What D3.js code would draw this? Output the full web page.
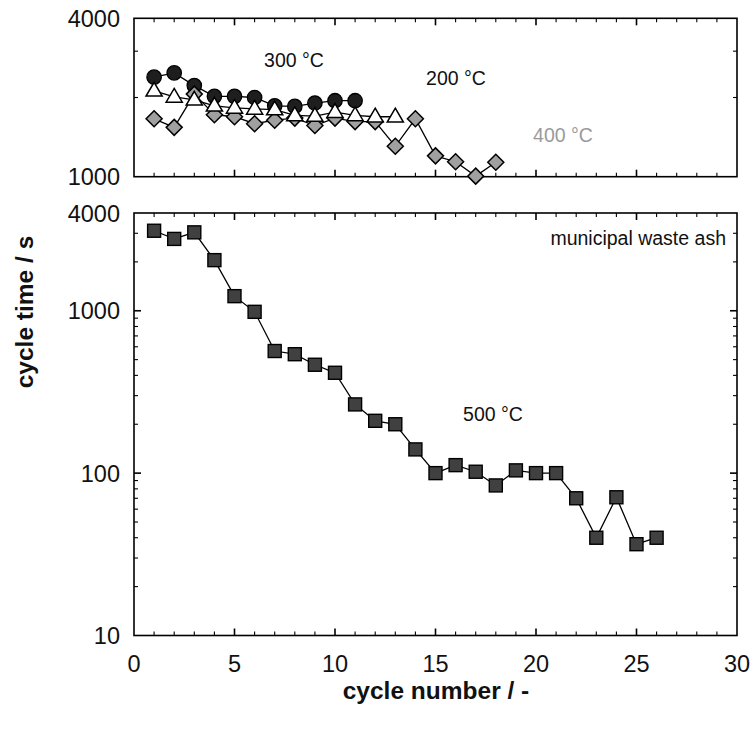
<!DOCTYPE html>
<html>
<head>
<meta charset="utf-8">
<script src="https://cdn.jsdelivr.net/npm/d3@7"></script>
<style>
  html, body { margin: 0; padding: 0; background: #fff; }
  svg { display: block; }
  text { font-family: "Liberation Sans", Arial, sans-serif; }
</style>
</head>
<body>
<svg id="chart" width="754" height="729"></svg>
<script>
// ---------------- data ----------------
const cycles300 = [1,2,3,4,5,6,7,8,9,10,11];
const time300   = [2390,2480,2220,2020,2020,2000,1860,1850,1905,1945,1945];

const cycles200 = [1,2,3,4,5,6,7,8,9,10,11,12,13];
const time200   = [2120,2010,1960,1860,1825,1810,1800,1710,1700,1760,1710,1690,1690];

const cycles400 = [1,2,3,4,5,6,7,8,9,10,11,12,13,14,15,16,17,18];
const time400   = [1660,1540,2060,1720,1690,1590,1640,1670,1565,1670,1620,1620,1305,1660,1200,1140,1005,1135];

const cycles500 = [1,2,3,4,5,6,7,8,9,10,11,12,13,14,15,16,17,18,19,20,21,22,23,24,25,26];
const time500   = [3110,2770,3040,2050,1230,985,565,540,465,415,265,210,200,140,100,112,102,84,104,100,100,70,40,71,36.5,40];

const xTickLabels = [0,5,10,15,20,25,30];
const topYLabels = [1000,4000];
const bottomYLabels = [10,100,1000,4000];

// ---------------- layout ----------------
const svg = d3.select("#chart");
const left = 134, right = 737;
const topPanel = {top: 18.3, bottom: 176.7};
const botPanel = {top: 213, bottom: 635.5};

const x = d3.scaleLinear().domain([0,30]).range([left,right]);
const yTop = d3.scaleLog().domain([1000,4000]).range([topPanel.bottom, topPanel.top]);
const yBot = d3.scaleLog().domain([10,4000]).range([botPanel.bottom, botPanel.top]);

function label(g, tx, ty, str, opts) {
  return g.append("text")
    .attr("x", tx).attr("y", ty)
    .attr("text-anchor", opts.anchor || "start")
    .attr("font-size", opts.size || 19)
    .attr("font-weight", opts.weight || "normal")
    .attr("fill", opts.fill || "#111")
    .text(str);
}

function drawFrame(y, panel, yLabels, minorY) {
  const g = svg.append("g");
  g.append("rect")
    .attr("x", left).attr("y", panel.top)
    .attr("width", right-left).attr("height", panel.bottom-panel.top)
    .attr("fill", "none").attr("stroke", "#000").attr("stroke-width", 1.6);
  d3.range(1,30).forEach(v => {
    const major = v % 5 === 0;
    const len = major ? 7 : 4;
    g.append("line").attr("x1", x(v)).attr("x2", x(v))
      .attr("y1", panel.bottom).attr("y2", panel.bottom - len)
      .attr("stroke", "#000").attr("stroke-width", major ? 1.6 : 1.1);
    g.append("line").attr("x1", x(v)).attr("x2", x(v))
      .attr("y1", panel.top).attr("y2", panel.top + len)
      .attr("stroke", "#000").attr("stroke-width", major ? 1.6 : 1.1);
  });
  minorY.forEach(v => {
    const major = [10,100,1000].includes(v);
    const len = major ? 7 : 4;
    g.append("line").attr("x1", left).attr("x2", left + len)
      .attr("y1", y(v)).attr("y2", y(v))
      .attr("stroke", "#000").attr("stroke-width", major ? 1.6 : 1.1);
    g.append("line").attr("x1", right).attr("x2", right - len)
      .attr("y1", y(v)).attr("y2", y(v))
      .attr("stroke", "#000").attr("stroke-width", major ? 1.6 : 1.1);
  });
  yLabels.forEach(v => {
    label(g, left - 14, y(v) + 8.5, String(v), {anchor: "end", size: 23.5});
  });
  return g;
}

drawFrame(yTop, topPanel, topYLabels, [2000,3000]);
const botMinor = [];
[10,100,1000].forEach(d => { for (let k=1;k<10;k++){ const v=d*k; if (v>10 && v<4000) botMinor.push(v);} });
drawFrame(yBot, botPanel, bottomYLabels, botMinor);

xTickLabels.forEach(v => {
  label(svg, x(v), botPanel.bottom + 36, String(v), {anchor: "middle", size: 23.5});
});

label(svg, 436, 699, "cycle number / -", {anchor: "middle", size: 24.5, weight: "bold"});
svg.append("text")
  .attr("transform", "translate(33,312) rotate(-90)")
  .attr("text-anchor", "middle")
  .attr("font-size", 24.5).attr("font-weight", "bold").attr("fill", "#111")
  .text("cycle time / s");

// ---------------- series ----------------
const line = (y) => d3.line().x(d => x(d[0])).y(d => y(d[1]));

function series(xs, ys, y, shape) {
  const pts = xs.map((c,i) => [c, ys[i]]);
  const g = svg.append("g");
  g.append("path").datum(pts).attr("d", line(y))
    .attr("fill", "none").attr("stroke", "#000").attr("stroke-width", 1.3);
  pts.forEach(p => {
    const cx = x(p[0]), cy = y(p[1]);
    if (shape === "circle") {
      g.append("circle").attr("cx", cx).attr("cy", cy).attr("r", 7.2)
        .attr("fill", "#1e1e1e").attr("stroke", "#000").attr("stroke-width", 1.3);
    } else if (shape === "triangle") {
      const s = 8.5;
      g.append("path")
        .attr("d", `M${cx},${cy - s} L${cx + s*0.95},${cy + s*0.62} L${cx - s*0.95},${cy + s*0.62} Z`)
        .attr("fill", "#fff").attr("stroke", "#000").attr("stroke-width", 1.5);
    } else if (shape === "diamond") {
      const s = 8;
      g.append("path")
        .attr("d", `M${cx},${cy - s} L${cx + s},${cy} L${cx},${cy + s} L${cx - s},${cy} Z`)
        .attr("fill", "#a0a0a0").attr("stroke", "#000").attr("stroke-width", 1.5);
    } else if (shape === "square") {
      const s = 6.5;
      g.append("rect").attr("x", cx - s).attr("y", cy - s)
        .attr("width", 2*s).attr("height", 2*s)
        .attr("fill", "#404040").attr("stroke", "#000").attr("stroke-width", 1.4);
    }
  });
}

series(cycles300, time300, yTop, "circle");
series(cycles400, time400, yTop, "diamond");
series(cycles200, time200, yTop, "triangle");
series(cycles500, time500, yBot, "square");

// ---------------- annotations ----------------
label(svg, 294, 67, "300 °C", {anchor: "middle", size: 19.5});
label(svg, 456, 85, "200 °C", {anchor: "middle", size: 19.5});
label(svg, 563, 142, "400 °C", {anchor: "middle", size: 19.5, fill: "#9a9a9a"});
label(svg, 493, 421, "500 °C", {anchor: "middle", size: 19.5});
label(svg, 726, 245, "municipal waste ash", {anchor: "end", size: 19.5});
</script>
</body>
</html>
